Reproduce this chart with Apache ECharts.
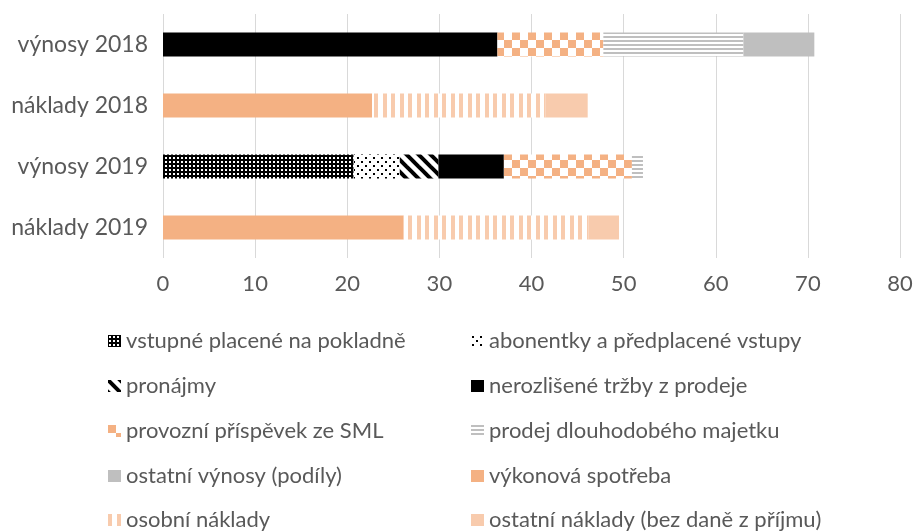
<!DOCTYPE html>
<html><head><meta charset="utf-8">
<script src="https://cdn.jsdelivr.net/npm/echarts@6/dist/echarts.min.js"></script>
<style>html,body{margin:0;padding:0;background:#fff}#c{width:916px;height:532px}</style>
</head><body><div id="c"></div>
<script>
const categories = ['výnosy 2018', 'náklady 2018', 'výnosy 2019', 'náklady 2019'];
const seriesNames = ['vstupné placené na pokladně', 'abonentky a předplacené vstupy', 'pronájmy', 'nerozlišené tržby z prodeje', 'provozní příspěvek ze SML', 'prodej dlouhodobého majetku', 'ostatní výnosy (podíly)', 'výkonová spotřeba', 'osobní náklady', 'ostatní náklady (bez daně z příjmu)'];
const vstupne      = [0, 0, 20.7, 0];
const abonentky    = [0, 0, 5.0, 0];
const pronajmy     = [0, 0, 4.2, 0];
const nerozlisene  = [36.3, 0, 7.1, 0];
const provozni     = [11.5, 0, 13.9, 0];
const prodejMaj    = [15.2, 0, 1.2, 0];
const ostatniVyn   = [7.7, 0, 0, 0];
const vykonova     = [0, 22.7, 0, 26.1];
const osobni       = [0, 18.8, 0, 20.1];
const ostatniNakl  = [0, 4.6, 0, 3.3];
const xTicks = [0, 10, 20, 30, 40, 50, 60, 70, 80];
const seriesData = [vstupne, abonentky, pronajmy, nerozlisene, provozni, prodejMaj, ostatniVyn, vykonova, osobni, ostatniNakl];

const ORANGE = '#f4b183', LORANGE = '#f8cbad', GREY = '#bfbfbf';
const FONT = 'Lato', FS = 22;
function pat(w, h, draw) {
  const c = document.createElement('canvas'); c.width = w; c.height = h;
  const g = c.getContext('2d'); draw(g); return { image: c, repeat: 'repeat' };
}
const fills = [
  pat(4, 4, g => { g.fillStyle = '#000'; g.fillRect(0,0,4,4); g.fillStyle = '#fff'; g.fillRect(1,1,2,2); }),
  pat(8, 8, g => { g.fillStyle = '#fff'; g.fillRect(0,0,8,8); g.fillStyle = '#000'; g.fillRect(1,1,2,2); g.fillRect(5,5,2,2); }),
  pat(12, 12, g => { g.fillStyle = '#fff'; g.fillRect(0,0,12,12); g.strokeStyle = '#000'; g.lineWidth = 4;
    for (const o of [-12, 0, 12]) { g.beginPath(); g.moveTo(o-2, -2); g.lineTo(o+14, 14); g.stroke(); } }),
  '#000000',
  pat(16, 16, g => { g.fillStyle = '#fff'; g.fillRect(0,0,16,16); g.fillStyle = ORANGE; g.fillRect(0,0,8,8); g.fillRect(8,8,8,8); }),
  pat(4, 4, g => { g.fillStyle = '#fff'; g.fillRect(0,0,4,4); g.fillStyle = GREY; g.fillRect(0,0,4,2); }),
  GREY,
  ORANGE,
  pat(17, 4, g => { g.fillStyle = '#fff'; g.fillRect(0,0,17,4); g.fillStyle = LORANGE; g.fillRect(0,0,4,4); g.fillRect(9,0,4,4); }),
  LORANGE
];

const series = seriesNames.map((n, i) => ({
  name: n, type: 'bar', stack: 'total', barWidth: 24,
  data: seriesData[i], itemStyle: { color: fills[i] }
}));

const rowTops = [330, 375, 420, 465, 509];
const legends = seriesNames.map((n, i) => ({
  left: i % 2 === 0 ? 108 : 471, top: rowTops[Math.floor(i / 2)],
  itemWidth: 13, itemHeight: 12, itemGap: 0, icon: 'rect', selectedMode: false, padding: 0,
  textStyle: { color: '#595959', fontSize: FS, fontFamily: FONT, padding: [0, 0, 0, 0] },
  data: [n]
}));

const chart = echarts.init(document.getElementById('c'), null, { renderer: 'canvas' });
chart.setOption({
  animation: false,
  textStyle: { fontFamily: FONT },
  grid: { left: 163, right: 16, top: 14, bottom: 274 },
  xAxis: { type: 'value', min: 0, max: 80, interval: 10,
    axisLine: { show: false }, axisTick: { show: false },
    splitLine: { lineStyle: { color: '#d9d9d9', width: 1 } },
    axisLabel: { color: '#595959', fontSize: FS, margin: 15, fontFamily: FONT,
      formatter: v => xTicks.includes(v) ? String(v) : '' } },
  yAxis: { type: 'category', data: categories, inverse: true,
    axisLine: { show: false }, axisTick: { show: false },
    axisLabel: { color: '#595959', fontSize: 23, margin: 15, fontFamily: FONT } },
  legend: legends,
  series
});
</script></body></html>
